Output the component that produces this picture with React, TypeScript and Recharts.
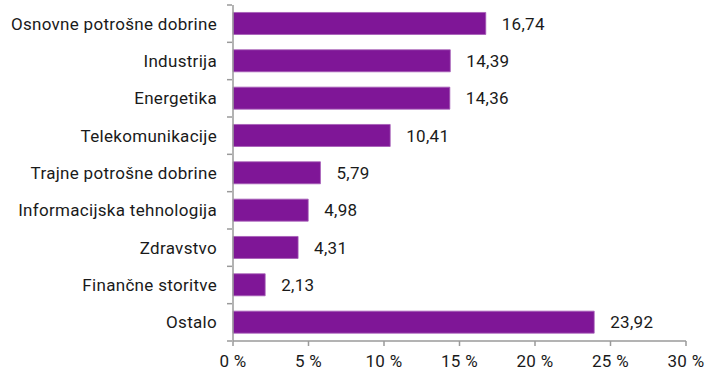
import { BarChart, Bar, XAxis, YAxis, LabelList } from 'recharts';

const categories = [
  'Osnovne potrošne dobrine',
  'Industrija',
  'Energetika',
  'Telekomunikacije',
  'Trajne potrošne dobrine',
  'Informacijska tehnologija',
  'Zdravstvo',
  'Finančne storitve',
  'Ostalo',
];
const shares = [16.74, 14.39, 14.36, 10.41, 5.79, 4.98, 4.31, 2.13, 23.92];
const xTicks = [0, 5, 10, 15, 20, 25, 30];

const data = categories.map((name, i) => ({ name, value: shares[i] }));

const W = 705;
const H = 371;
const TOP = 5;
const XAXIS_H = 30;
const BAND = (H - TOP - XAXIS_H) / categories.length;
const AXIS = '#9a9a9a';
const TEXT = '#1a1a1a';
const FONT = 'Roboto, "Noto Sans", sans-serif';
const textStyle = { fontSize: 17, fill: TEXT, fontFamily: FONT, letterSpacing: 0.3 };

// Excel style: tick marks sit between categories, not at their centres
const CategoryTick = (props: any) => {
  const { x, y, payload, index } = props;
  const last = index === categories.length - 1;
  return (
    <g>
      <line x1={x + 2} x2={x + 7} y1={y - BAND / 2} y2={y - BAND / 2} stroke={AXIS} strokeWidth={1.5} />
      {last && (
        <line x1={x + 2} x2={x + 7} y1={y + BAND / 2} y2={y + BAND / 2} stroke={AXIS} strokeWidth={1.5} />
      )}
      <text x={x - 8} y={y} dy={6} textAnchor="end" style={textStyle}>
        {payload.value}
      </text>
    </g>
  );
};

export default function App() {
  return (
    <div style={{ position: 'fixed', left: 0, top: 0, background: '#fff' }}>
      <BarChart
        width={W}
        height={H}
        data={data}
        layout="vertical"
        margin={{ top: TOP, right: 19, left: 0, bottom: 0 }}
        barCategoryGap="20%"
      >
        <XAxis
          type="number"
          domain={[0, 30]}
          ticks={xTicks}
          tickFormatter={(v) => `${v} %`}
          height={XAXIS_H}
          stroke={AXIS}
          strokeWidth={1.5}
          tickSize={5}
          tickMargin={9}
          tick={textStyle}
          interval={0}
        />
        <YAxis
          type="category"
          dataKey="name"
          width={233}
          stroke={AXIS}
          strokeWidth={1.5}
          tickLine={false}
          tick={<CategoryTick />}
          interval={0}
        />
        <Bar dataKey="value" fill="#7f1697" stroke="#a45cb6" strokeWidth={0.8} isAnimationActive={false}>
          <LabelList
            dataKey="value"
            position="right"
            offset={16}
            formatter={(v: any) => Number(v).toFixed(2).replace('.', ',')}
            style={textStyle}
          />
        </Bar>
      </BarChart>
    </div>
  );
}
